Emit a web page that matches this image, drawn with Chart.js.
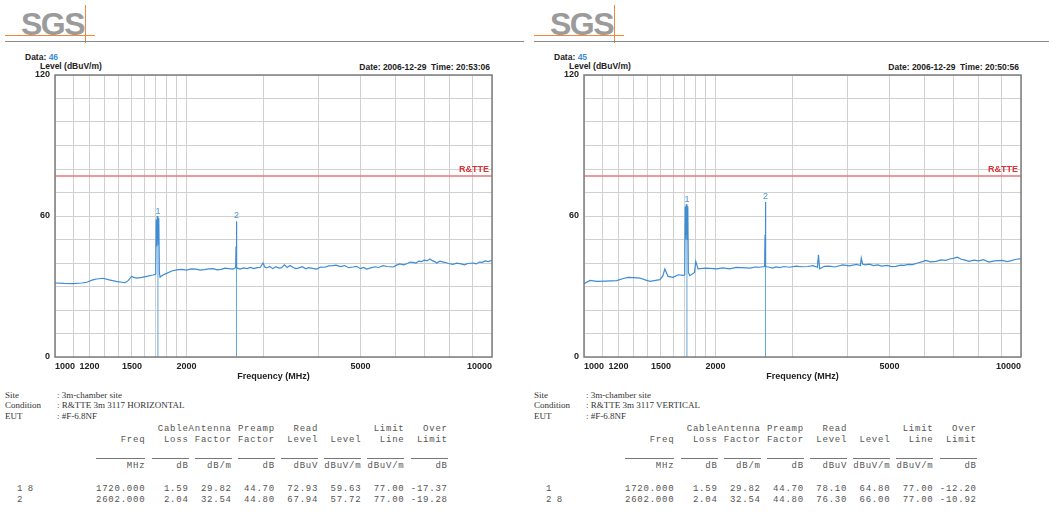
<!DOCTYPE html>
<html>
<head>
<meta charset="utf-8">
<title>SGS radiated emission plots</title>
<script src="https://cdn.jsdelivr.net/npm/chart.js@4.4.1/dist/chart.umd.min.js"></script>
<style>
  body { margin: 0; background: #fff; width: 1049px; height: 514px; overflow: hidden; position: relative; font-family: "Liberation Sans", Arial, sans-serif; }
  .panel { position: absolute; top: 0; width: 524px; height: 514px; }
  .logo { position: absolute; left: 21px; top: 6px; font: bold 32px "Liberation Sans", Arial, sans-serif; color: #9b9b9b; letter-spacing: -1.5px; }
  .logo-h { position: absolute; left: 5px; top: 35px; width: 90px; border-top: 1.5px solid #f0883a; }
  .logo-v { position: absolute; left: 85px; top: 5px; height: 38px; border-left: 1.5px solid #f0883a; }
  .rule { position: absolute; left: 5px; top: 41px; width: 519px; border-top: 1.5px solid #8a8a8a; }
  .lbl { position: absolute; font-weight: bold; font-size: 8.5px; color: #222; white-space: nowrap; }
  .lbl .num { color: #3a8fd8; }
  canvas { position: absolute; left: 0; top: 60px; }
  .info { position: absolute; left: 5px; font: 9px "Liberation Serif", "Times New Roman", serif; color: #333; white-space: nowrap; }
  .info span { position: absolute; left: 52px; }
  .row { position: absolute; left: 96px; margin: 0; font: 9px "Liberation Mono", "Courier New", monospace; letter-spacing: 0.77px; color: #555; white-space: pre; }
  .row.tag { left: 17px; letter-spacing: 0; }
  .uline { position: absolute; top: 458px; border-top: 1px solid #777; }
</style>
</head>
<body>

<div class="panel" style="left:0">
  <div class="logo">SGS</div><div class="logo-h"></div><div class="logo-v"></div><div class="rule"></div>
  <div class="lbl" style="left:25px;top:52px">Data: <span class="num">46</span></div>
  <div class="lbl" style="left:40px;top:61px">Level (dBuV/m)</div>
  <div class="lbl" style="right:34px;top:62px">Date: 2006-12-29&nbsp;&nbsp;Time: 20:53:06</div>
  <canvas id="chartH" width="524" height="330"></canvas>
  <div class="info" style="top:390px">Site<span>: 3m-chamber site</span></div>
  <div class="info" style="top:400px">Condition<span>: R&amp;TTE 3m 3117 HORIZONTAL</span></div>
  <div class="info" style="top:411px">EUT<span>: #F-6.8NF</span></div>
  <pre class="row" style="top:424px">          CableAntenna Preamp   Read         Limit   Over</pre>
  <pre class="row" style="top:435px">    Freq   Loss Factor Factor  Level  Level   Line  Limit</pre>
  <pre class="row" style="top:461px">     MHz     dB   dB/m     dB   dBuV dBuV/m dBuV/m     dB</pre>
  <pre class="row tag" style="top:484px">1 8</pre>
  <pre class="row" style="top:484px">1720.000   1.59  29.82  44.70  72.93  59.63  77.00 -17.37</pre>
  <pre class="row tag" style="top:495px">2</pre>
  <pre class="row" style="top:495px">2602.000   2.04  32.54  44.80  67.94  57.72  77.00 -19.28</pre>
</div>

<div class="panel" style="left:529px">
  <div class="logo">SGS</div><div class="logo-h"></div><div class="logo-v"></div><div class="rule"></div>
  <div class="lbl" style="left:25px;top:52px">Data: <span class="num">45</span></div>
  <div class="lbl" style="left:40px;top:61px">Level (dBuV/m)</div>
  <div class="lbl" style="right:34px;top:62px">Date: 2006-12-29&nbsp;&nbsp;Time: 20:50:56</div>
  <canvas id="chartV" width="524" height="330"></canvas>
  <div class="info" style="top:390px">Site<span>: 3m-chamber site</span></div>
  <div class="info" style="top:400px">Condition<span>: R&amp;TTE 3m 3117 VERTICAL</span></div>
  <div class="info" style="top:411px">EUT<span>: #F-6.8NF</span></div>
  <pre class="row" style="top:424px">          CableAntenna Preamp   Read         Limit   Over</pre>
  <pre class="row" style="top:435px">    Freq   Loss Factor Factor  Level  Level   Line  Limit</pre>
  <pre class="row" style="top:461px">     MHz     dB   dB/m     dB   dBuV dBuV/m dBuV/m     dB</pre>
  <pre class="row tag" style="top:484px">1</pre>
  <pre class="row" style="top:484px">1720.000   1.59  29.82  44.70  78.10  64.80  77.00 -12.20</pre>
  <pre class="row tag" style="top:495px">2 8</pre>
  <pre class="row" style="top:495px">2602.000   2.04  32.54  44.80  76.30  66.00  77.00 -10.92</pre>
</div>

<script>
// Axis setup (MHz, log scale) and limit line
const gridFreqs = [1000, 1100, 1200, 1300, 1400, 1500, 1600, 1700, 1800, 1900,
                   2000, 3000, 4000, 5000, 6000, 7000, 8000, 9000, 10000];
const labelFreqs = [1000, 1200, 1500, 2000, 5000, 10000];
const levelLabels = [0, 60, 120];
const limitName = 'R&TTE';
const limitLevel = 77;

// Data 46 - horizontal polarisation trace
const hFreq = [1000, 1050, 1100, 1150, 1182, 1220, 1246, 1288, 1330, 1380, 1446, 1470, 1497, 1520, 1538,
               1580, 1620, 1676, 1700, 1705, 1710, 1714, 1718, 1720, 1724, 1728, 1733, 1739,
               1770, 1801, 1850, 1899, 1950, 2000, 2050, 2100, 2150, 2200, 2250, 2300, 2350, 2400, 2450, 2500,
               2555, 2590, 2596, 2599, 2602, 2605, 2608, 2615,
               2651, 2700, 2750, 2800, 2850, 2900, 2950, 2992, 3020,
               3050, 3100, 3150, 3200, 3260, 3300, 3350, 3400, 3450, 3500, 3560, 3600, 3680, 3750, 3800,
               3880, 3970, 4050, 4150, 4230, 4330, 4400, 4500, 4600, 4700, 4810, 4900, 5000, 5080, 5170,
               5280, 5400, 5500, 5630, 5750, 5940, 6050, 6150, 6280, 6400, 6500, 6590, 6700, 6800, 6900,
               7000, 7100, 7210, 7300, 7400, 7470, 7600, 7700, 7800, 7950, 8140, 8300, 8500, 8650, 8800,
               9050, 9200, 9350, 9500, 9650, 9800, 10000];
const hLevel = [31.5, 31.3, 31.2, 31.5, 31.8, 32.8, 33.2, 33.5, 32.8, 32.2, 31.6, 32.5, 34.3, 33.8, 33.6,
                33.9, 34.3, 34.9, 35.2, 58.5, 47.0, 60.0, 50.0, 59.6, 48.0, 59.0, 36.0, 34.0,
                35.0, 35.6, 36.6, 37.1, 37.3, 37.0, 37.5, 37.4, 37.0, 37.2, 37.5, 37.6, 37.1, 37.3, 37.8, 37.6,
                37.4, 38.0, 47.0, 38.5, 57.7, 47.0, 38.2, 37.8,
                37.4, 37.9, 37.6, 38.1, 37.6, 38.0, 38.2, 40.0, 38.3,
                37.9, 38.5, 37.6, 38.4, 37.8, 38.0, 39.2, 38.1, 38.9, 38.2, 37.6, 37.8, 38.4, 37.5, 38.0,
                37.7, 37.4, 38.3, 38.2, 38.8, 38.9, 39.1, 38.5, 38.9, 38.0, 38.3, 38.6, 37.6, 38.1, 37.4,
                37.9, 38.4, 38.1, 38.9, 38.5, 38.3, 39.1, 39.6, 39.2, 39.8, 40.4, 40.3, 40.0, 40.8, 40.6,
                41.2, 40.9, 41.7, 41.0, 40.6, 40.0, 40.8, 40.5, 40.3, 39.8, 39.4, 39.9, 39.6, 39.2, 39.8,
                40.0, 39.6, 40.4, 40.3, 40.9, 40.6, 41.1];
const hMarkerFreq = [1720, 2602];
const hMarkerLevel = [59.63, 57.72];

// Data 45 - vertical polarisation trace
const vFreq = [1000, 1032, 1069, 1120, 1188, 1230, 1262, 1300, 1342, 1380, 1415, 1460, 1491,
               1515, 1531, 1557, 1599, 1642, 1686, 1700, 1705, 1710, 1714, 1718, 1720, 1724, 1728, 1733,
               1746, 1790, 1802, 1824, 1900, 2012, 2080, 2154, 2230, 2300, 2400, 2460, 2520, 2590,
               2596, 2599, 2602, 2605, 2608,
               2615, 2658, 2700, 2750, 2800, 2870, 2950, 3060, 3150, 3250, 3340, 3420, 3440, 3460, 3550,
               3640, 3750, 3910, 4050, 4200, 4290, 4310, 4340, 4400, 4500, 4600, 4700, 4800, 4950, 5050,
               5170, 5300, 5400, 5520, 5650, 5800, 5950, 6060, 6200, 6400, 6550, 6730, 6900, 7000, 7150,
               7300, 7450, 7610, 7800, 8000, 8200, 8450, 8700, 9060, 9300, 9500, 9700, 9900, 10000];
const vLevel = [31.2, 32.6, 32.2, 32.3, 32.5, 33.4, 33.9, 33.8, 33.6, 32.8, 32.2, 32.6, 32.9,
                34.5, 37.4, 34.3, 33.9, 35.0, 34.7, 35.0, 64.0, 50.0, 65.0, 52.0, 64.8, 50.0, 64.0, 36.0,
                34.6, 36.0, 40.7, 37.5, 37.8, 37.5, 37.9, 37.5, 38.1, 38.0, 37.8, 38.3, 38.2, 38.5,
                52.0, 39.0, 66.0, 52.0, 38.6,
                38.4, 38.2, 37.8, 38.3, 38.0, 38.5, 38.2, 38.7, 38.4, 38.5, 38.9, 38.2, 43.5, 37.5, 38.6,
                38.7, 38.3, 39.2, 38.8, 39.4, 38.9, 42.1, 39.6, 39.2, 39.5, 38.9, 39.2, 38.7, 39.0, 38.5,
                38.6, 39.1, 39.0, 39.4, 39.3, 40.0, 40.6, 41.1, 40.5, 40.7, 41.3, 41.1, 41.8, 42.0, 42.5,
                41.6, 41.2, 40.7, 41.2, 40.9, 41.4, 40.4, 40.9, 41.1, 40.6, 41.0, 41.5, 41.8, 41.6];
const vMarkerFreq = [1720, 2602];
const vMarkerLevel = [64.80, 66.00];

// Table underlines: monospace column spans [first char, last char)
const charW = 6.17;
const tableLeft = 96;
const columnSpans = [[0, 8], [9, 15], [16, 22], [23, 29], [30, 36], [37, 43], [44, 50], [51, 57]];
document.querySelectorAll('.panel').forEach(panel => {
    columnSpans.forEach(([a, b]) => {
        const line = document.createElement('div');
        line.className = 'uline';
        line.style.left = (tableLeft + a * charW) + 'px';
        line.style.width = ((b - a) * charW) + 'px';
        panel.appendChild(line);
    });
});

Chart.defaults.font.family = '"Liberation Sans", Arial, sans-serif';
Chart.defaults.color = '#222';

// Frame, limit name and marker numbers on top of the plot
const overlayPlugin = {
    id: 'overlay',
    afterDatasetsDraw(chart, args, opts) {
        const { ctx, chartArea, scales } = chart;
        ctx.save();
        ctx.strokeStyle = '#7d7d7d';
        ctx.lineWidth = 1.5;
        ctx.strokeRect(chartArea.left, chartArea.top, chartArea.width, chartArea.height);

        ctx.fillStyle = '#d8343c';
        ctx.font = 'bold 9px "Liberation Sans", Arial, sans-serif';
        ctx.textAlign = 'right';
        ctx.textBaseline = 'bottom';
        ctx.fillText(limitName, chartArea.right - 3, scales.y.getPixelForValue(limitLevel) - 2);

        ctx.fillStyle = '#4a95d6';
        ctx.font = '9px "Liberation Sans", Arial, sans-serif';
        ctx.textAlign = 'center';
        opts.markerFreq.forEach((f, i) => {
            ctx.fillText(String(i + 1), scales.x.getPixelForValue(f), scales.y.getPixelForValue(opts.markerLevel[i]) - 1);
        });
        ctx.restore();
    }
};

function makeChart(canvasId, freq, level, markerFreq, markerLevel) {
    const datasets = [
        {
            data: freq.map((f, i) => ({ x: f, y: level[i] })),
            borderColor: '#3d8cd4', borderWidth: 1.2, pointRadius: 0, order: 0
        },
        {
            data: [{ x: gridFreqs[0], y: limitLevel }, { x: gridFreqs[gridFreqs.length - 1], y: limitLevel }],
            borderColor: '#e7777a', borderWidth: 1.5, pointRadius: 0, order: 2
        }
    ];
    // marker drop lines
    markerFreq.forEach((f, i) => {
        datasets.push({
            data: [{ x: f, y: 0 }, { x: f, y: markerLevel[i] }],
            borderColor: '#62a6dd', borderWidth: 1, pointRadius: 0, order: 1
        });
    });

    return new Chart(document.getElementById(canvasId), {
        type: 'line',
        data: { datasets },
        plugins: [overlayPlugin],
        options: {
            responsive: false,
            animation: false,
            layout: { padding: { top: 15, right: 32, left: 0, bottom: 0 } },
            plugins: {
                legend: { display: false },
                tooltip: { enabled: false },
                overlay: { markerFreq, markerLevel }
            },
            scales: {
                x: {
                    type: 'logarithmic',
                    min: 1000,
                    max: 10000,
                    afterBuildTicks: s => { s.ticks = gridFreqs.map(v => ({ value: v })); },
                    afterFit: s => { s.height = 33; },
                    grid: { color: '#d0d0d0', drawTicks: false },
                    border: { display: false },
                    ticks: {
                        autoSkip: false, maxRotation: 0, align: 'inner', padding: 4,
                        font: { size: 9, weight: 'bold' },
                        callback: v => labelFreqs.includes(v) ? String(v) : ''
                    },
                    title: {
                        display: true, text: 'Frequency (MHz)',
                        font: { size: 9, weight: 'bold' }, padding: { top: 0, bottom: 8 }
                    }
                },
                y: {
                    min: 0,
                    max: 120,
                    afterFit: s => { s.width = 55; },
                    grid: { color: '#d0d0d0', drawTicks: false },
                    border: { display: false },
                    ticks: {
                        stepSize: 10, padding: 5,
                        font: { size: 9, weight: 'bold' },
                        callback: v => levelLabels.includes(v) ? String(v) : ''
                    }
                }
            }
        }
    });
}

makeChart('chartH', hFreq, hLevel, hMarkerFreq, hMarkerLevel);
makeChart('chartV', vFreq, vLevel, vMarkerFreq, vMarkerLevel);
</script>
</body>
</html>
